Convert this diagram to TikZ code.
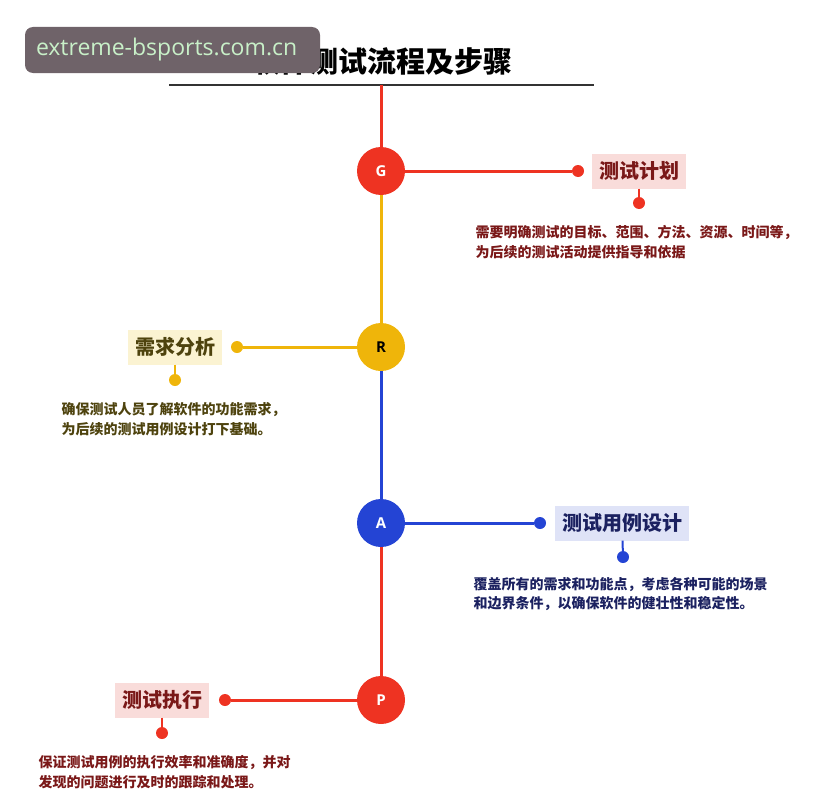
\documentclass[tikz,border=0pt]{standalone}
\usepackage{fontspec}
\setmainfont{Noto Sans CJK SC}
\newfontfamily\wmfont{Open Sans}
\definecolor{gred}{HTML}{EE3322}
\definecolor{gyellow}{HTML}{EFB50A}
\definecolor{gblue}{HTML}{2444D4}
\definecolor{redtext}{HTML}{7A1818}
\definecolor{redbg}{HTML}{F9DCDA}
\definecolor{olivetext}{HTML}{4E430E}
\definecolor{olivebg}{HTML}{FBF3D2}
\definecolor{navytext}{HTML}{1B2160}
\definecolor{navybg}{HTML}{DFE3F7}
\definecolor{wmgray}{HTML}{6F6369}
\definecolor{wmgreen}{HTML}{C8F0C8}
\begin{document}
\begin{tikzpicture}[x=1pt,y=-1pt,
  phase/.style={circle,fill=#1,minimum size=48pt,inner sep=0pt,font=\wmfont\bfseries\fontsize{15}{15}\selectfont},
  knob/.style={circle,fill=#1,minimum size=12pt,inner sep=0pt},
  tag/.style 2 args={fill=#1,text=#2,inner xsep=7pt,minimum height=35pt,font=\bfseries\fontsize{20}{20}\selectfont},
  desc/.style={anchor=west,align=left,text=#1,font=\bfseries\fontsize{14}{19.5}\selectfont},
  branch/.style={line width=3pt,#1},
  stem/.style={line width=2pt,#1}]
\useasboundingbox (0,0) rectangle (840,800);
\node (title) at (382,61) {\bfseries\fontsize{29}{29}\selectfont 软件测试流程及步骤};
\coordinate (tl) at (169,85);
\coordinate (tr) at (594,85);
\coordinate (top) at (381,85);
\draw[line width=1.5pt,black!80] (tl) -- (tr);
\node[phase=gred,text=white] (G) at (381,171) {G};
\node[phase=gyellow,text=black] (R) at (381,347) {R};
\node[phase=gblue,text=white] (A) at (381,523) {A};
\node[phase=gred,text=white] (P) at (381,700) {P};
\draw[branch=gred] (top) -- (G);
\draw[branch=gyellow] (G) -- (R);
\draw[branch=gblue] (R) -- (A);
\draw[branch=gred] (A) -- (P);
\node[knob=gred] (gk) at (578,171) {};
\node[tag={redbg}{redtext}] (gtag) at (639,171) {测试计划};
\node[knob=gred] (gd) at (639,203) {};
\draw[branch=gred] (G) -- (gk);
\draw[stem=gred] (gtag) -- (gd);
\node[desc=redtext] (gtext) at (472,242) {需要明确测试的目标、范围、方法、资源、时间等，\\为后续的测试活动提供指导和依据};
\node[knob=gyellow] (rk) at (237,347) {};
\node[tag={olivebg}{olivetext}] (rtag) at (175,347) {需求分析};
\node[knob=gyellow] (rd) at (175,380) {};
\draw[branch=gyellow] (R) -- (rk);
\draw[stem=gyellow] (rtag) -- (rd);
\node[desc=olivetext] (rtext) at (58,419) {确保测试人员了解软件的功能需求，\\为后续的测试用例设计打下基础。};
\node[knob=gblue] (ak) at (540,523) {};
\node[tag={navybg}{navytext}] (atag) at (622,523) {测试用例设计};
\node[knob=gblue] (ad) at (623,557) {};
\draw[branch=gblue] (A) -- (ak);
\draw[stem=gblue] (atag) -- (ad);
\node[desc=navytext] (atext) at (470,594) {覆盖所有的需求和功能点，考虑各种可能的场景\\和边界条件，以确保软件的健壮性和稳定性。};
\node[knob=gred] (pk) at (225,700) {};
\node[tag={redbg}{redtext}] (ptag) at (162,700) {测试执行};
\node[knob=gred] (pd) at (162,733) {};
\draw[branch=gred] (P) -- (pk);
\draw[stem=gred] (ptag) -- (pd);
\node[desc=redtext] (ptext) at (35,772) {保证测试用例的执行效率和准确度，并对\\发现的问题进行及时的跟踪和处理。};
\node[fill=wmgray,rounded corners=8pt,text width=273pt,align=left,inner xsep=11pt,minimum height=46pt,text=wmgreen,font=\wmfont\fontsize{23}{23}\selectfont] (wm) at (172.5,50) {extreme-bsports.com.cn};
\end{tikzpicture}
\end{document}
